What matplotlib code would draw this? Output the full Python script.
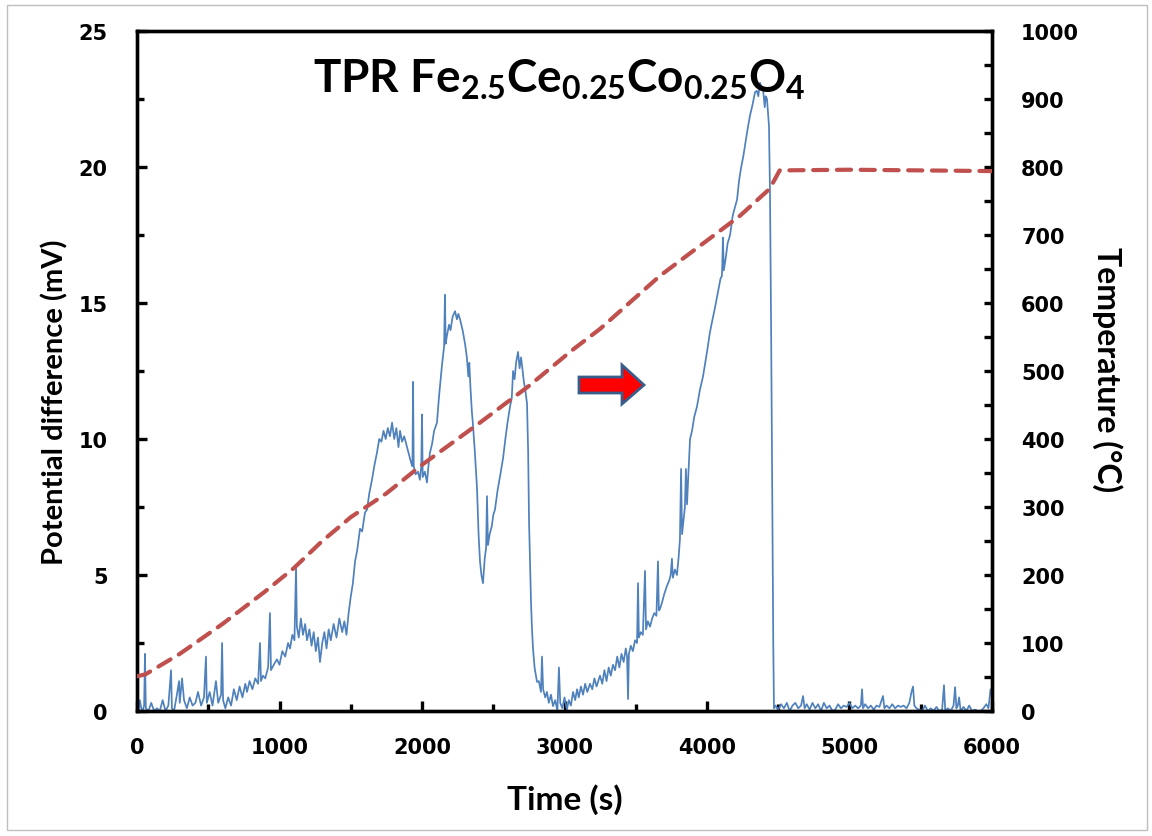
import matplotlib
matplotlib.use("Agg")
import matplotlib.pyplot as plt
from matplotlib.ticker import MultipleLocator
from matplotlib.patches import Polygon, Rectangle

# ---------------- data ----------------
# Potential difference (mV) vs time (s), segment by segment
t_a = [0,10,20,30,40,50,56,62,80,100,120,140,160,180,200,220,239,245,260,280,
       295,300,316,330,350,370,390,410,428,450,470,484,490,510,530,554,570,590,597,604,
       620,640,660,680,700]
v_a = [0.3,0.0,0.4,0.1,0.0,0.2,2.1,0.1,0.0,0.3,0.0,0.1,0.0,0.4,0.0,0.2,1.5,0.1,0.0,0.6,
       1.1,0.3,1.2,0.4,0.1,0.5,0.2,0.3,0.7,0.2,0.5,2.0,0.3,0.7,0.2,1.1,0.3,0.6,2.5,0.4,
       0.1,0.5,0.2,0.8,0.4]

t_b = [720,740,760,772,790,810,830,850,863,870,884,900,920,933,940,960,982,1000,1020,1040,
       1060,1074,1090,1105,1116,1122,1135,1150,1165,1180,1193,1210,1225,1240,1255,1270,1284,1300,1315,1330,
       1345,1360,1380,1400,1420,1440,1455,1470,1485]
v_b = [0.9,0.5,1.0,0.7,1.1,0.8,1.2,1.0,2.5,1.1,1.3,1.2,1.6,3.6,1.5,1.7,1.9,1.7,2.2,2.0,
       2.5,2.3,2.8,2.6,5.3,3.1,2.7,3.4,2.8,3.2,2.6,3.0,2.4,2.9,2.2,2.7,1.8,2.5,2.9,2.3,
       3.0,2.6,3.2,2.7,3.4,2.9,3.3,2.8,3.6]

t_c = [1500,1515,1530,1545,1565,1580,1600,1614,1630,1649,1665,1684,1700,1715,1730,1745,1760,1775,1790,1805,
       1820,1835,1846,1860,1875,1895,1910,1925,1933,1937,1942,1955,1972,1985,1995,2000,2005,2020,2035,2045,
       2056,2070,2085,2105,2120,2140,2155,2161,2166,2175,2190,2200,2215,2232,2245,2255,2267,2285,2302,2315,
       2325,2332,2340,2350,2358,2370,2386,2397,2407,2417,2428]
v_c = [4.2,4.7,5.5,5.9,6.7,6.6,7.3,7.4,8.0,8.5,9.0,9.5,10.0,9.9,10.3,10.0,10.4,10.1,10.6,10.0,
       10.4,9.7,10.3,9.9,10.1,9.7,9.4,9.1,9.0,12.1,9.0,8.7,8.8,8.5,9.0,10.9,8.6,8.8,8.4,9.0,
       9.5,9.8,10.3,10.6,11.6,12.7,13.4,15.3,13.5,13.8,14.2,14.0,14.5,14.7,14.4,14.6,14.4,14.0,13.5,13.0,
       12.3,12.8,11.9,11.0,10.5,9.6,8.2,6.5,5.5,5.0,4.7]

t_d = [2440,2450,2456,2463,2475,2490,2500,2512,2530,2550,2569,2585,2600,2618,2630,2639,2650,2660,2674,2685,
       2695,2702,2715,2725,2737,2745,2751,2758,2765,2772,2779,2790,2800,2807]
v_d = [5.6,6.0,7.9,6.1,6.5,6.8,7.2,7.4,8.1,8.7,9.3,10.0,10.6,11.2,11.5,12.5,12.2,12.8,13.2,12.6,
       13.0,12.7,12.1,11.8,11.3,9.5,7.0,5.5,4.0,3.0,2.3,1.6,1.3,1.07]

t_e = [2820,2835,2842,2850,2865,2877,2890,2905,2919,2935,2950,2961,2970,2985,3000,3017,3030,3045,3060,3075,
       3088,3100,3115,3130,3145,3160,3179,3195,3210,3225,3249,3265,3280,3295,3310,3325,3340,3355,3370,3385,
       3400,3415,3430,3439,3446,3452,3465,3480,3495,3509,3516,3522,3535,3550,3565,3572,3585,3600,3615,3630,
       3645,3656,3662,3670,3685]
v_e = [1.1,0.7,2.0,0.8,0.5,0.7,0.3,0.6,0.18,0.4,0.0,1.6,0.3,0.1,0.5,0.05,0.4,0.2,0.7,0.4,
       0.8,0.5,0.9,0.6,1.0,0.7,1.0,0.8,1.2,0.9,1.3,1.0,1.5,1.1,1.6,1.3,1.7,1.5,2.0,1.6,
       2.1,1.8,2.3,2.0,0.44,2.1,2.4,2.2,2.6,2.5,4.7,2.7,2.9,2.8,5.15,3.0,3.3,3.1,3.4,3.6,
       3.5,5.5,3.7,3.75,4.0]

t_f = [3700,3719,3735,3745,3754,3760,3775,3789,3800,3810,3818,3825,3835,3845,3852,3860,3870,3881,3895,3910,
       3930,3950,3972,4000,4020,4035,4055,4077,4095,4105,4112,4118,4130,4145,4162,4180,4195,4211,4225,4240,
       4255,4267,4285,4302,4320,4337,4350,4360,4372,4385,4393,4405,4412,4421,4428,4435,4442,4450,4458,4465,
       4470]
v_f = [4.3,4.6,4.8,5.0,5.6,4.9,5.2,5.0,5.6,6.3,8.9,6.5,7.0,7.5,8.9,7.6,8.8,10.0,10.3,10.8,
       11.2,11.8,12.3,13.2,13.9,14.3,14.8,15.4,15.9,16.0,17.4,16.2,16.6,17.2,17.5,18.2,18.5,18.8,19.5,20.0,
       20.4,20.8,21.4,21.9,22.3,22.75,22.8,22.6,23.1,22.9,22.9,22.2,22.6,22.5,22.0,21.5,19.1,14.0,8.0,2.5,
       0.1]

t_g = [4480,4500,4520,4540,4560,4580,4600,4620,4640,4660,4674,4685,4700,4720,4740,4760,4780,4800,4820,4840,
       4860,4880,4900,4920,4940,4960,4980,5000,5020,5040,5060,5080,5088,5095,5110,5130,5150,5170,5190,5210,
       5235,5245,5260,5280,5300,5320,5340,5360,5380,5400,5420,5435,5446,5455,5470,5490,5510,5530,5550,5570,
       5590,5610,5630,5650,5663,5672,5690,5710,5730,5741,5750,5760,5769,5780,5800,5820,5840,5860,5880,5900,
       5920,5940,5960,5975,5990,6000]
v_g = [0.2,0.05,0.25,0.1,0.3,0.0,0.2,0.3,0.1,0.2,0.55,0.1,0.25,0.05,0.3,0.1,0.25,0.0,0.3,0.1,
       0.2,0.0,0.05,0.25,0.1,0.2,0.15,0.3,0.1,0.2,0.1,0.2,0.8,0.1,0.25,0.1,0.2,0.05,0.2,0.15,
       0.55,0.1,0.2,0.1,0.25,0.1,0.2,0.15,0.2,0.1,0.3,0.7,0.9,0.2,0.1,0.05,0.0,0.2,0.0,0.1,
       0.0,0.15,0.0,0.05,0.95,0.0,0.1,0.0,0.2,0.88,0.1,0.2,0.5,0.0,0.15,0.0,0.2,0.0,0.05,0.0,
       0.0,0.1,0.25,0.1,0.8,0.6]

# Temperature (°C) vs time (s)
temp_t = [0, 60, 300, 600, 900, 1100, 1300, 1500, 1750, 2000, 2400, 2750, 3050, 3250,
          3670, 4230, 4440, 4510, 5000, 6000]
temp_c = [51, 54, 84, 128, 176, 210, 250, 285, 320, 362, 423, 478, 530, 562,
          640, 728, 768, 795, 796, 794]

title_main = "TPR Fe$_{2.5}$Ce$_{0.25}$Co$_{0.25}$O$_4$"
xlabel = "Time (s)"
ylabel_left = "Potential difference (mV)"
ylabel_right = "Temperature (°C)"

time_s, pot_mv = [], []
for tt, vv in [(t_a, v_a), (t_b, v_b), (t_c, v_c), (t_d, v_d), (t_e, v_e), (t_f, v_f), (t_g, v_g)]:
    assert len(tt) == len(vv)
    time_s += tt
    pot_mv += vv

# ---------------- style ----------------
plt.rcParams["mathtext.fontset"] = "custom"
plt.rcParams["mathtext.rm"] = "Lato:bold"
plt.rcParams["mathtext.it"] = "Lato:bold"
plt.rcParams["mathtext.bf"] = "Lato:bold"

W, H = 1152, 837
fig = plt.figure(figsize=(W / 100, H / 100), dpi=100)
ax = fig.add_axes([137 / W, 1 - 712 / H, 855 / W, 680 / H])
ax2 = ax.twinx()

blue = "#4F81BD"
red = "#C0504D"

ax.plot(time_s, pot_mv, color=blue, lw=1.25, zorder=2)
line, = ax2.plot(temp_t, temp_c, color=red, lw=3.0, zorder=3)
line.set_dashes((3.4, 2.3))
line.set_dash_capstyle("round")

ax.set_xlim(0, 6000)
ax.set_ylim(0, 25)
ax2.set_ylim(0, 1000)

ax.xaxis.set_major_locator(MultipleLocator(1000))
ax.xaxis.set_minor_locator(MultipleLocator(500))
ax.yaxis.set_major_locator(MultipleLocator(5))
ax.yaxis.set_minor_locator(MultipleLocator(2.5))
ax2.yaxis.set_major_locator(MultipleLocator(100))
ax2.yaxis.set_minor_locator(MultipleLocator(50))

tick_font = dict(family="DejaVu Sans", weight="bold", size=15)
for a in (ax, ax2):
    for sp in a.spines.values():
        sp.set_linewidth(2.4)
        sp.set_color("black")
ax.tick_params(axis="x", which="major", direction="in", length=7, width=2.4, pad=19, top=False)
ax.tick_params(axis="x", which="minor", direction="in", length=5, width=2.4, top=False)
ax.tick_params(axis="y", which="major", direction="in", length=7, width=2.4, pad=21, right=False)
ax.tick_params(axis="y", which="minor", direction="in", length=5, width=2.4, right=False)
ax2.tick_params(axis="y", which="major", direction="in", length=6, width=2.4, pad=21)
ax2.tick_params(axis="y", which="minor", direction="in", length=6, width=2.4)
for lab in ax.get_xticklabels() + ax.get_yticklabels() + ax2.get_yticklabels():
    lab.set_fontproperties(tick_font)

# labels and title
fig.text(55 / W, 1 - 402 / H, ylabel_left, rotation=90, ha="center", va="center",
         family="Lato", weight="bold", size=21)
fig.text(1107 / W, 1 - 370 / H, ylabel_right, rotation=270, ha="center", va="center",
         family="Lato", weight="bold", size=23)
fig.text(565 / W, 1 - 800 / H, xlabel, ha="center", va="center",
         family="Lato", weight="bold", size=24)
fig.text(559 / W, 1 - 80 / H, title_main, ha="center", va="center",
         family="Lato", weight="bold", size=33)

# red block arrow (axes-fraction coordinates)
def axfx(px):
    return (px - 137) / 855

def axfy(py):
    return (712 - py) / 680

arrow_pts = [(axfx(579), axfy(378)), (axfx(622), axfy(378)), (axfx(622), axfy(366)),
             (axfx(644), axfy(386)), (axfx(622), axfy(405)), (axfx(622), axfy(394)),
             (axfx(579), axfy(394))]
ax2.add_patch(Polygon(arrow_pts, closed=True, transform=ax2.transAxes,
                      facecolor="#FF0000", edgecolor="#385D8A", lw=2.0, zorder=5))

# light grey frame round the figure
fig.patches.append(Rectangle((7 / W, 1 - 831 / H), 1140 / W, 825 / H, transform=fig.transFigure,
                             fill=False, edgecolor="#BFBFBF", lw=1.0))

fig.savefig("out.png", dpi=100)
